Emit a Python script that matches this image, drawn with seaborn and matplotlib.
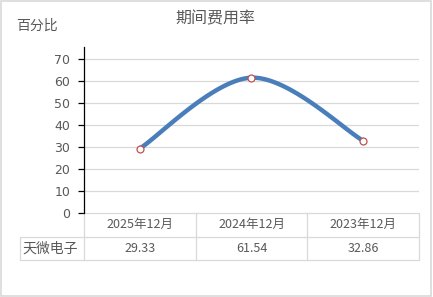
import numpy as np
import pandas as pd
import matplotlib
matplotlib.use("Agg")
import matplotlib.pyplot as plt
import seaborn as sns
from matplotlib.lines import Line2D
from matplotlib.patches import Rectangle

categories = ["2025年12月", "2024年12月", "2023年12月"]
series_name = "天微电子"
values = [29.33, 61.54, 32.86]
value_labels = ["29.33", "61.54", "32.86"]
yticks = [0, 10, 20, 30, 40, 50, 60, 70]
title = "期间费用率"
ylabel = "百分比"

sns.set_theme(style="white")
plt.rcParams["font.family"] = ["Noto Sans CJK SC", "DejaVu Sans"]

TXT = "#595959"
GRID = "#D9D9D9"
LINE = "#4A7EBB"
MARK = "#C0504D"

fig = plt.figure(figsize=(4.33, 2.97), dpi=100)
ax = fig.add_axes([84/433, 1-213/297, (419-84)/433, (213-47)/297])

# Excel-like smoothing (Bezier, Catmull-Rom control points)
xs = np.arange(len(values), dtype=float)
ys = np.array(values, dtype=float)
P = np.column_stack([xs, ys])
Pext = np.vstack([P[0], P, P[-1]])
curve = []
t = np.linspace(0, 1, 60)
for i in range(len(P) - 1):
    p0 = Pext[i+1]; p3 = Pext[i+2]
    c1 = p0 + (Pext[i+2] - Pext[i]) / 6.0
    c2 = p3 - (Pext[i+3] - Pext[i+1]) / 6.0
    seg = ((1-t)**3)[:, None]*p0 + (3*(1-t)**2*t)[:, None]*c1 + (3*(1-t)*t**2)[:, None]*c2 + (t**3)[:, None]*p3
    curve.append(seg if i == 0 else seg[1:])
curve = np.vstack(curve)
smooth = pd.DataFrame({"x": curve[:, 0], "y": curve[:, 1]})
pts = pd.DataFrame({"x": xs, "y": ys})

sns.lineplot(data=smooth, x="x", y="y", sort=False, color=LINE, linewidth=3.2, ax=ax, zorder=3)
sns.scatterplot(data=pts, x="x", y="y", marker="o", s=25, facecolor="white",
                edgecolor=MARK, linewidth=0.9, ax=ax, zorder=4)

ax.set_xlim(-0.5, 2.5)
ax.set_ylim(0, 75.5)
ax.set_yticks(yticks)
ax.set_yticklabels([str(v) for v in yticks], color=TXT, fontsize=9, family=["DejaVu Sans"])
ax.set_xticks([])
ax.set_xlabel("")
ax.set_ylabel("")
for v in yticks[1:]:
    ax.axhline(v, color=GRID, linewidth=0.9, zorder=1)
for s in ["top", "right", "bottom"]:
    ax.spines[s].set_visible(False)
ax.spines["left"].set_color("black")
ax.spines["left"].set_linewidth(0.9)
ax.tick_params(axis="y", which="both", left=True, length=4, width=0.9, color="black", pad=6)

# data table beneath the axes
rh = 23.5 / 166.0
tr = ax.transAxes
lw = 0.9
ax.add_line(Line2D([0, 1], [0, 0], transform=tr, color=GRID, lw=lw, clip_on=False))
ax.add_line(Line2D([-64/335, 1], [-rh, -rh], transform=tr, color=GRID, lw=lw, clip_on=False))
ax.add_line(Line2D([-64/335, 1], [-2*rh, -2*rh], transform=tr, color=GRID, lw=lw, clip_on=False))
for xv in [0, 1/3, 2/3, 1]:
    ax.add_line(Line2D([xv, xv], [0, -2*rh], transform=tr, color=GRID, lw=lw, clip_on=False))
ax.add_line(Line2D([-64/335, -64/335], [-rh, -2*rh], transform=tr, color=GRID, lw=lw, clip_on=False))
for i, (c, v) in enumerate(zip(categories, value_labels)):
    xc = (i + 0.5) / 3
    ax.text(xc, -0.5*rh, c, transform=tr, ha="center", va="center", color=TXT, fontsize=9)
    ax.text(xc, -1.5*rh, v, transform=tr, ha="center", va="center", color=TXT, fontsize=9)
ax.text(-62/335, -1.5*rh, series_name, transform=tr, ha="left", va="center", color=TXT, fontsize=10)

fig.text(215/433, 1-19/297, title, ha="center", va="center", color=TXT, fontsize=11.5)
fig.text(16/433, 1-26/297, ylabel, ha="left", va="center", color=TXT, fontsize=10)

fig.patches.append(Rectangle((0.002, 0.003), 0.994, 0.994, transform=fig.transFigure,
                             fill=False, edgecolor="#D9D9D9", linewidth=1.2))

fig.savefig("out.png", dpi=100)
